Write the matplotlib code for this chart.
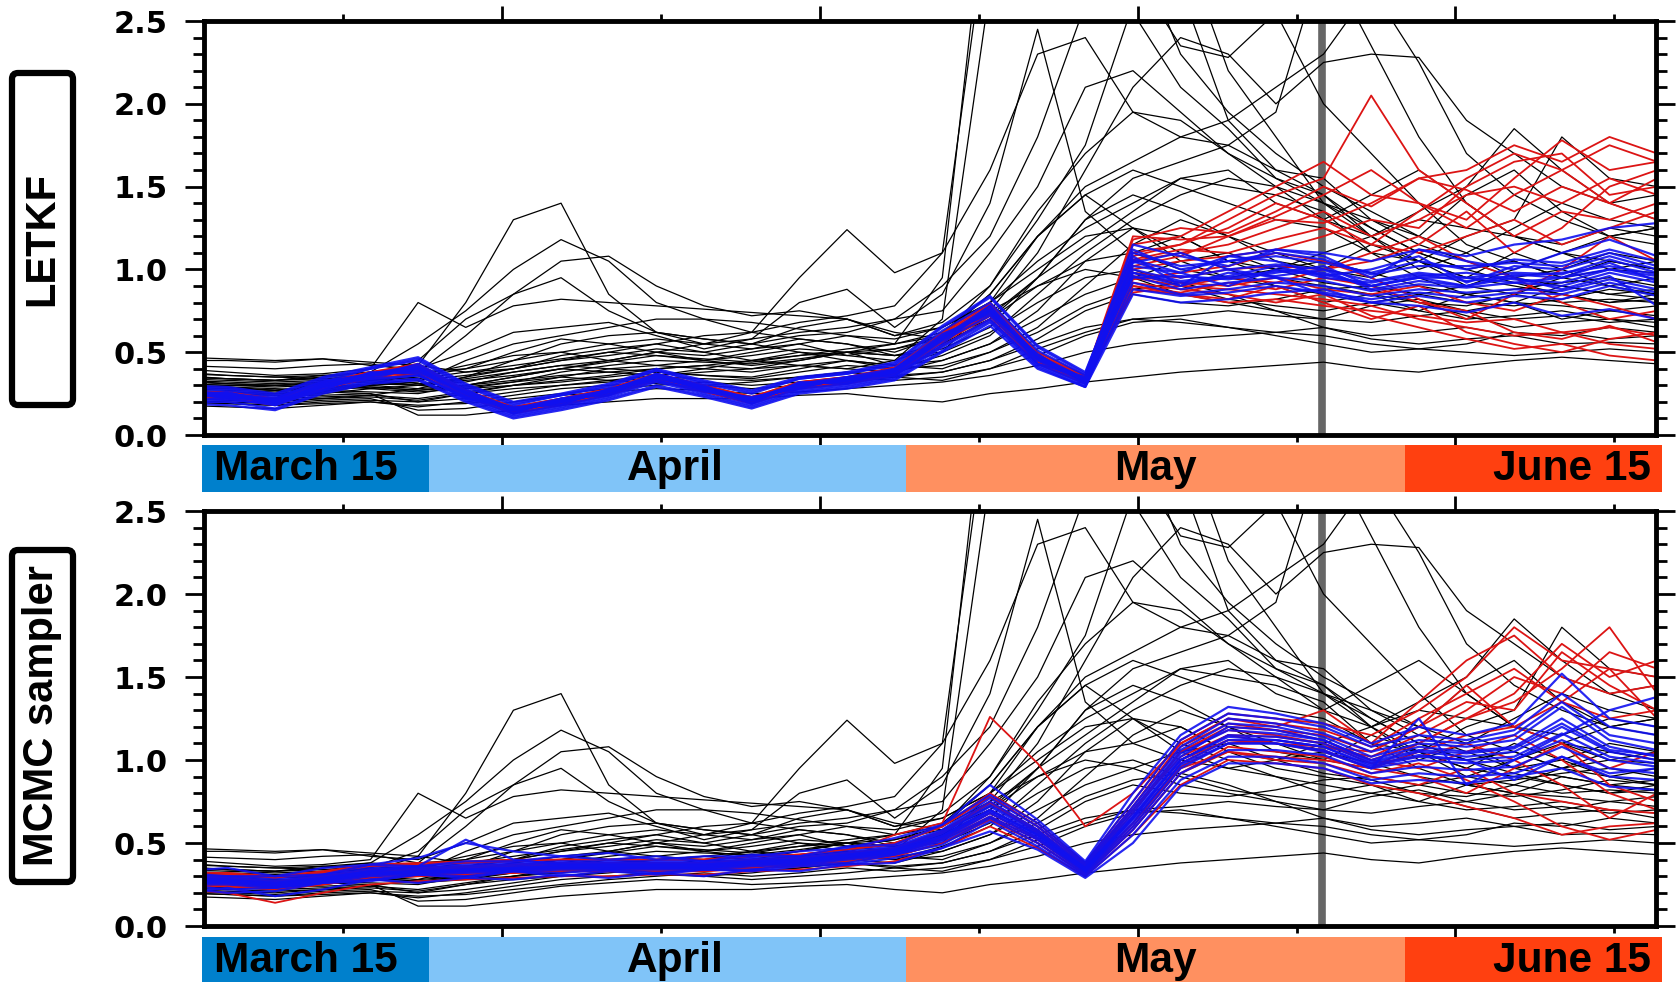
import numpy as np
import matplotlib.pyplot as plt
from matplotlib.patches import FancyBboxPatch
from matplotlib.transforms import IdentityTransform

# days counted from the left edge of the plot (about March 18)
DAYS = [-1.5, 1.5, 4.5, 7.5, 10.5, 13.5, 16.5, 19.5, 22.5, 25.5, 28.5, 31.5,
        34.5, 37.5, 40.5, 43.5, 46.5, 49.5, 52.5, 55.5, 58.5, 61.5, 64.5, 67.5,
        70.5, 73.5, 76.5, 79.5, 82.5, 85.5, 88.5, 91.5]

# free-running ensemble (black), identical in both panels
BLACK = [
    [0.30,0.29,0.27,0.30,0.33,0.42,0.80,1.30,1.40,0.85,0.62,0.58,0.55,0.50,0.48,0.52,0.60,0.85,1.20,1.45,1.60,1.50,1.40,1.30,1.25,1.10,1.05,0.95,1.10,1.00,0.90,0.95],
    [0.36,0.34,0.33,0.35,0.38,0.55,0.75,1.00,1.18,1.05,0.80,0.70,0.62,0.58,0.55,0.48,0.55,0.70,0.95,1.30,1.45,1.35,1.20,1.10,1.00,1.15,1.05,0.90,0.85,0.95,1.05,1.00],
    [0.25,0.24,0.22,0.26,0.30,0.38,0.60,0.85,1.05,1.08,0.90,0.78,0.72,0.75,0.70,0.60,0.65,0.80,1.00,1.20,1.25,1.10,1.00,0.90,0.85,0.80,0.75,0.85,0.80,0.70,0.75,0.72],
    [0.40,0.38,0.36,0.37,0.40,0.80,0.65,0.78,0.82,0.80,0.78,0.76,0.74,0.72,0.70,0.62,0.58,0.70,0.90,1.05,1.10,1.20,1.05,0.95,0.90,0.85,0.80,0.78,0.85,0.80,0.82,0.80],
    [0.33,0.31,0.30,0.32,0.35,0.45,0.70,0.85,0.95,0.75,0.62,0.55,0.62,0.95,1.24,0.98,1.10,3.20,3.60,3.20,2.55,2.10,1.85,1.55,1.40,1.30,1.15,1.05,0.95,1.00,1.10,1.05],
    [0.28,0.27,0.26,0.28,0.30,0.32,0.45,0.55,0.60,0.65,0.70,0.70,0.68,0.64,0.60,0.55,0.95,3.50,3.80,3.40,3.00,2.30,1.95,1.70,1.50,1.35,1.20,1.10,0.95,0.90,0.85,0.88],
    [0.45,0.45,0.44,0.46,0.42,0.40,0.50,0.62,0.65,0.68,0.60,0.52,0.58,0.80,0.88,0.65,0.85,1.40,2.45,1.35,1.10,1.00,0.95,0.90,0.80,0.85,0.75,0.70,0.72,0.75,0.70,0.68],
    [0.22,0.21,0.20,0.22,0.24,0.28,0.35,0.45,0.55,0.60,0.62,0.58,0.55,0.60,0.62,0.70,0.90,1.20,1.80,2.60,3.20,2.70,1.90,1.60,1.55,1.30,1.20,1.45,1.60,1.35,1.20,1.25],
    [0.32,0.31,0.30,0.29,0.31,0.30,0.35,0.40,0.48,0.52,0.55,0.50,0.45,0.42,0.40,0.45,0.70,2.70,3.50,3.20,2.80,2.35,2.28,2.55,2.00,1.70,1.40,1.15,1.05,0.95,0.90,0.85],
    [0.20,0.19,0.18,0.20,0.21,0.20,0.25,0.30,0.35,0.40,0.42,0.45,0.50,0.55,0.48,0.45,0.55,0.75,1.10,1.60,2.10,2.40,2.30,2.00,2.25,2.30,2.28,1.90,1.70,1.50,1.40,1.30],
    [0.38,0.36,0.35,0.34,0.33,0.35,0.40,0.50,0.58,0.55,0.50,0.45,0.48,0.52,0.50,0.42,0.50,0.80,1.20,1.50,1.65,1.80,1.75,1.60,1.45,1.25,1.10,1.00,0.92,0.85,0.80,0.82],
    [0.26,0.25,0.24,0.25,0.28,0.30,0.32,0.38,0.42,0.45,0.50,0.48,0.52,0.58,0.55,0.50,0.60,0.90,1.30,1.75,2.60,3.00,2.20,1.80,1.40,1.20,1.30,1.25,1.20,1.15,1.25,1.20],
    [0.30,0.29,0.28,0.27,0.26,0.25,0.30,0.35,0.40,0.38,0.36,0.40,0.45,0.50,0.45,0.40,0.48,0.60,0.85,1.10,1.30,1.45,1.55,1.50,1.40,1.25,1.10,1.00,1.05,0.95,1.00,0.98],
    [0.35,0.34,0.33,0.36,0.38,0.36,0.42,0.48,0.50,0.45,0.42,0.40,0.38,0.42,0.40,0.38,0.45,0.55,0.75,1.05,1.25,1.20,1.05,1.00,1.10,1.20,1.35,1.50,1.85,1.60,1.40,1.45],
    [0.24,0.23,0.22,0.23,0.24,0.22,0.26,0.30,0.32,0.35,0.38,0.36,0.34,0.38,0.42,0.40,0.42,0.50,0.65,0.90,1.15,1.30,1.20,1.05,1.00,0.95,1.05,1.20,1.30,1.80,1.55,1.50],
    [0.29,0.28,0.27,0.28,0.29,0.27,0.30,0.33,0.36,0.38,0.40,0.42,0.40,0.45,0.50,0.48,0.50,0.62,0.80,0.95,1.00,0.90,0.82,0.78,0.75,0.80,0.85,0.90,1.00,1.10,1.20,1.15],
    [0.18,0.17,0.16,0.18,0.20,0.17,0.20,0.24,0.28,0.30,0.32,0.30,0.28,0.30,0.32,0.35,0.38,0.45,0.55,0.65,0.70,0.72,0.75,0.72,0.70,0.78,0.82,0.75,0.70,0.72,0.68,0.70],
    [0.34,0.33,0.32,0.33,0.34,0.31,0.33,0.36,0.40,0.44,0.48,0.46,0.44,0.48,0.52,0.55,0.60,0.75,0.90,1.00,0.95,0.85,0.80,0.75,0.65,0.60,0.62,0.65,0.60,0.62,0.58,0.60],
    [0.21,0.20,0.19,0.21,0.22,0.15,0.16,0.20,0.24,0.26,0.28,0.27,0.25,0.26,0.28,0.30,0.32,0.36,0.42,0.50,0.55,0.58,0.60,0.62,0.65,0.58,0.55,0.58,0.60,0.55,0.56,0.55],
    [0.27,0.26,0.25,0.26,0.25,0.12,0.12,0.15,0.18,0.20,0.22,0.22,0.22,0.24,0.25,0.22,0.20,0.25,0.28,0.32,0.35,0.38,0.40,0.42,0.44,0.40,0.38,0.42,0.45,0.47,0.45,0.43],
    [0.31,0.30,0.29,0.30,0.28,0.26,0.28,0.32,0.35,0.33,0.31,0.30,0.32,0.35,0.38,0.35,0.33,0.40,0.52,0.62,0.70,0.68,0.65,0.60,0.55,0.50,0.52,0.55,0.62,0.60,0.65,0.62],
    [0.42,0.41,0.40,0.42,0.43,0.38,0.40,0.45,0.50,0.55,0.58,0.55,0.52,0.55,0.60,0.58,0.65,0.80,1.05,1.25,1.40,1.55,1.50,1.45,1.35,1.10,0.95,0.85,0.80,0.90,0.85,0.82],
    [0.23,0.22,0.21,0.22,0.23,0.21,0.25,0.28,0.30,0.32,0.35,0.34,0.33,0.35,0.38,0.36,0.38,0.45,0.58,0.75,0.85,0.80,0.78,0.82,0.88,0.90,0.85,0.80,0.78,0.82,0.88,0.85],
    [0.37,0.36,0.35,0.36,0.35,0.33,0.36,0.40,0.45,0.48,0.52,0.50,0.55,0.65,0.70,0.60,0.68,0.90,1.35,1.70,1.95,1.90,1.70,1.55,1.45,1.20,1.00,1.10,1.25,1.40,1.30,1.25],
    [0.26,0.25,0.24,0.24,0.25,0.20,0.22,0.26,0.30,0.33,0.36,0.38,0.40,0.42,0.45,0.42,0.45,0.55,0.70,0.85,0.95,1.05,1.10,1.00,0.92,0.88,0.80,0.72,0.65,0.68,0.70,0.65],
    [0.33,0.32,0.31,0.32,0.33,0.30,0.34,0.38,0.42,0.40,0.38,0.36,0.35,0.40,0.45,0.42,0.40,0.50,0.62,0.78,0.88,0.92,0.85,0.75,0.70,0.68,0.72,0.75,0.80,0.78,0.75,0.78],
    [0.29,0.28,0.27,0.29,0.30,0.28,0.30,0.35,0.40,0.45,0.50,0.55,0.58,0.62,0.65,0.70,0.75,1.10,1.50,2.10,2.20,1.95,1.70,1.50,1.30,1.20,1.05,0.95,0.90,0.85,0.80,0.85],
    [0.20,0.19,0.18,0.19,0.20,0.18,0.19,0.22,0.25,0.28,0.30,0.32,0.30,0.32,0.35,0.33,0.35,0.40,0.48,0.60,0.68,0.70,0.65,0.62,0.60,0.55,0.52,0.50,0.48,0.50,0.52,0.50],
    [0.47,0.46,0.45,0.46,0.44,0.42,0.38,0.40,0.45,0.50,0.48,0.45,0.42,0.45,0.50,0.55,0.62,0.85,1.20,1.45,1.25,1.05,0.95,1.00,1.05,0.98,0.90,0.85,0.88,0.92,0.95,0.90],
    [0.31,0.30,0.30,0.31,0.32,0.30,0.28,0.30,0.33,0.36,0.40,0.42,0.45,0.48,0.50,0.52,0.58,0.72,0.95,1.15,1.35,1.55,1.60,1.40,1.30,1.45,1.60,1.40,1.20,1.10,1.05,1.00],
    [0.27,0.26,0.25,0.27,0.29,0.27,0.29,0.32,0.38,0.42,0.45,0.44,0.43,0.46,0.50,0.48,0.52,0.65,0.95,1.30,1.55,1.65,1.75,1.95,2.90,2.35,1.80,1.40,1.20,1.10,1.00,1.05],
    [0.35,0.34,0.33,0.34,0.36,0.34,0.38,0.42,0.46,0.50,0.55,0.60,0.62,0.68,0.72,0.78,1.10,1.60,2.30,2.40,1.95,1.80,1.90,2.10,2.30,2.70,2.25,1.70,1.45,1.30,1.20,1.25],
]

LETKF_RED = [
    [0.24,0.24,0.19,0.29,0.35,0.38,0.24,0.14,0.19,0.25,0.34,0.27,0.20,0.29,0.32,0.37,0.56,0.72,0.44,0.34,1.05,1.10,1.15,1.25,1.35,1.20,1.30,1.45,1.50,1.40,1.55,1.45],
    [0.25,0.25,0.21,0.31,0.37,0.42,0.26,0.16,0.21,0.27,0.36,0.29,0.22,0.31,0.34,0.40,0.60,0.78,0.48,0.36,1.10,1.15,1.30,1.45,1.55,2.05,1.60,1.40,1.20,1.35,1.30,1.40],
    [0.23,0.23,0.19,0.29,0.35,0.39,0.24,0.14,0.19,0.25,0.34,0.27,0.20,0.29,0.32,0.38,0.57,0.74,0.45,0.33,0.95,0.90,0.88,0.85,0.82,0.78,0.70,0.65,0.60,0.62,0.55,0.52],
    [0.26,0.26,0.22,0.32,0.38,0.43,0.27,0.17,0.22,0.28,0.37,0.30,0.23,0.32,0.35,0.41,0.62,0.80,0.50,0.36,1.20,1.18,1.20,1.30,1.28,1.40,1.55,1.60,1.75,1.65,1.80,1.70],
    [0.22,0.22,0.18,0.28,0.34,0.37,0.23,0.13,0.18,0.24,0.33,0.26,0.19,0.28,0.31,0.36,0.54,0.70,0.43,0.31,0.88,0.85,0.80,0.82,0.78,0.75,0.72,0.68,0.70,0.62,0.65,0.60],
    [0.25,0.25,0.20,0.30,0.36,0.40,0.25,0.15,0.20,0.26,0.35,0.28,0.21,0.30,0.33,0.38,0.58,0.75,0.46,0.34,1.00,1.05,1.08,1.12,1.20,1.30,1.25,1.50,1.65,1.70,1.45,1.50],
    [0.24,0.24,0.20,0.30,0.36,0.40,0.25,0.15,0.20,0.26,0.35,0.28,0.21,0.30,0.33,0.38,0.58,0.75,0.46,0.33,0.98,0.95,1.00,1.02,1.00,1.05,1.15,1.35,1.10,1.25,1.50,1.60],
    [0.23,0.23,0.19,0.29,0.35,0.39,0.24,0.14,0.19,0.25,0.34,0.27,0.20,0.29,0.32,0.37,0.57,0.73,0.45,0.32,0.92,0.88,0.85,0.80,0.85,0.72,0.65,0.58,0.52,0.55,0.48,0.45],
    [0.26,0.26,0.21,0.31,0.37,0.41,0.26,0.16,0.21,0.27,0.36,0.29,0.22,0.31,0.34,0.39,0.60,0.77,0.47,0.35,1.15,1.20,1.35,1.50,1.65,1.45,1.40,1.30,1.55,1.78,1.60,1.65],
    [0.24,0.24,0.20,0.30,0.36,0.40,0.25,0.15,0.20,0.26,0.35,0.28,0.21,0.30,0.33,0.38,0.58,0.75,0.46,0.33,0.96,0.92,0.90,0.95,0.88,0.85,0.90,0.80,0.75,0.85,0.78,0.70],
    [0.25,0.25,0.21,0.31,0.37,0.41,0.26,0.16,0.21,0.27,0.36,0.29,0.22,0.31,0.34,0.39,0.59,0.76,0.47,0.34,1.06,1.12,1.10,1.18,1.25,1.15,1.10,1.20,1.30,1.15,1.25,1.35],
    [0.23,0.23,0.19,0.29,0.35,0.39,0.24,0.14,0.19,0.25,0.34,0.27,0.20,0.29,0.32,0.37,0.56,0.72,0.44,0.32,0.90,0.85,0.82,0.90,0.80,0.70,0.78,0.62,0.55,0.50,0.58,0.62],
    [0.24,0.24,0.20,0.30,0.36,0.40,0.25,0.15,0.20,0.26,0.35,0.28,0.21,0.30,0.33,0.38,0.58,0.75,0.46,0.33,1.08,1.15,1.25,1.40,1.30,1.15,1.35,1.55,1.70,1.60,1.40,1.55],
    [0.23,0.23,0.19,0.29,0.35,0.39,0.24,0.14,0.19,0.25,0.34,0.27,0.20,0.29,0.32,0.37,0.57,0.73,0.45,0.32,0.94,0.98,1.02,1.10,1.05,0.95,0.82,0.70,0.85,1.00,1.20,1.05],
    [0.25,0.25,0.21,0.31,0.37,0.41,0.26,0.16,0.21,0.27,0.36,0.29,0.22,0.31,0.34,0.39,0.59,0.76,0.47,0.34,1.02,1.08,1.20,1.32,1.45,1.60,1.40,1.25,1.45,1.60,1.75,1.65],
    [0.24,0.24,0.20,0.30,0.36,0.40,0.25,0.15,0.20,0.26,0.35,0.28,0.21,0.30,0.33,0.38,0.58,0.75,0.46,0.33,0.90,0.86,0.92,0.88,0.95,0.90,0.80,0.75,0.62,0.58,0.66,0.56],
    [0.26,0.26,0.22,0.32,0.38,0.42,0.27,0.17,0.22,0.28,0.37,0.30,0.23,0.32,0.35,0.40,0.61,0.79,0.49,0.35,1.18,1.25,1.22,1.35,1.50,1.38,1.55,1.48,1.35,1.50,1.40,1.30],
    [0.23,0.23,0.19,0.29,0.35,0.39,0.24,0.14,0.19,0.25,0.34,0.27,0.20,0.29,0.32,0.37,0.56,0.72,0.44,0.32,0.86,0.90,0.95,0.92,1.00,1.10,1.20,1.05,0.95,0.80,0.70,0.75],
]

LETKF_BLUE = [
    [0.30,0.29,0.25,0.35,0.41,0.47,0.31,0.20,0.25,0.31,0.40,0.33,0.27,0.35,0.38,0.44,0.66,0.84,0.54,0.38,1.10,1.02,1.05,1.08,1.04,0.98,1.05,1.00,1.06,1.04,1.12,1.05],
    [0.19,0.18,0.15,0.25,0.31,0.33,0.20,0.10,0.15,0.21,0.29,0.23,0.16,0.25,0.28,0.33,0.50,0.66,0.40,0.29,0.92,0.85,0.88,0.92,0.90,0.84,0.88,0.86,0.88,0.87,0.94,0.88],
    [0.26,0.22,0.22,0.33,0.35,0.43,0.28,0.13,0.22,0.24,0.37,0.30,0.19,0.32,0.31,0.40,0.61,0.73,0.49,0.31,1.05,0.95,1.00,1.03,1.00,0.93,0.98,0.95,0.98,0.97,1.06,0.98],
    [0.22,0.25,0.18,0.27,0.38,0.37,0.22,0.17,0.18,0.28,0.33,0.26,0.23,0.28,0.35,0.36,0.55,0.78,0.43,0.35,0.96,0.88,0.92,0.95,0.93,0.87,0.91,0.89,0.92,0.90,0.98,0.92],
    [0.28,0.27,0.23,0.32,0.40,0.45,0.29,0.18,0.24,0.29,0.39,0.31,0.25,0.34,0.37,0.42,0.63,0.80,0.51,0.36,1.15,1.08,1.02,1.12,1.08,0.95,1.12,1.05,1.00,1.10,1.18,1.08],
    [0.20,0.20,0.16,0.26,0.32,0.34,0.21,0.11,0.16,0.22,0.30,0.24,0.17,0.26,0.29,0.34,0.51,0.68,0.41,0.29,0.85,0.80,0.82,0.86,0.88,0.80,0.84,0.80,0.84,0.82,0.90,0.84],
    [0.24,0.26,0.19,0.31,0.34,0.41,0.24,0.16,0.19,0.27,0.36,0.27,0.22,0.29,0.34,0.39,0.58,0.76,0.46,0.34,1.02,0.98,0.90,1.00,0.98,0.90,0.96,0.98,0.94,0.92,1.00,0.96],
    [0.25,0.23,0.21,0.29,0.37,0.38,0.26,0.14,0.21,0.25,0.34,0.29,0.20,0.31,0.32,0.37,0.57,0.72,0.45,0.32,0.98,0.90,0.98,0.96,1.00,0.88,0.93,0.90,0.97,0.95,1.04,0.93],
    [0.23,0.24,0.20,0.28,0.36,0.39,0.23,0.15,0.20,0.26,0.35,0.28,0.21,0.30,0.33,0.38,0.60,0.74,0.47,0.33,1.00,0.93,0.96,1.02,0.95,0.92,0.97,0.93,0.96,0.98,1.02,0.97],
    [0.27,0.25,0.22,0.32,0.37,0.42,0.27,0.16,0.22,0.27,0.37,0.29,0.22,0.31,0.35,0.40,0.59,0.78,0.48,0.34,1.08,0.90,1.08,1.05,0.96,1.00,1.08,0.92,1.02,1.00,1.08,1.00],
    [0.21,0.22,0.18,0.29,0.34,0.36,0.23,0.13,0.18,0.24,0.33,0.27,0.19,0.28,0.31,0.36,0.54,0.70,0.43,0.31,0.88,0.84,0.86,0.90,0.86,0.82,0.86,0.83,0.86,0.85,0.92,0.86],
    [0.24,0.23,0.20,0.30,0.36,0.40,0.25,0.15,0.20,0.26,0.35,0.28,0.21,0.30,0.33,0.38,0.58,0.75,0.46,0.33,0.95,0.96,0.94,0.98,1.02,0.90,0.95,0.95,0.92,0.95,1.00,0.94],
    [0.29,0.28,0.24,0.34,0.40,0.46,0.30,0.19,0.24,0.30,0.39,0.32,0.26,0.34,0.37,0.43,0.65,0.83,0.53,0.37,1.12,1.00,1.05,1.10,1.06,0.97,1.02,1.02,1.04,1.02,1.10,1.02],
    [0.22,0.21,0.19,0.27,0.33,0.36,0.22,0.12,0.17,0.23,0.32,0.25,0.18,0.27,0.30,0.35,0.53,0.69,0.42,0.30,0.98,0.92,0.95,0.99,0.97,0.90,0.95,0.90,0.95,0.88,0.96,0.78],
    [0.24,0.24,0.20,0.30,0.36,0.40,0.25,0.15,0.20,0.26,0.35,0.28,0.21,0.30,0.33,0.38,0.58,0.75,0.46,0.33,1.04,1.10,1.00,0.95,0.85,0.80,0.78,0.74,0.80,0.72,0.76,0.70],
    [0.25,0.25,0.21,0.31,0.37,0.41,0.26,0.16,0.21,0.27,0.36,0.29,0.22,0.31,0.34,0.39,0.59,0.76,0.47,0.34,1.06,0.98,1.08,1.12,1.10,1.05,1.12,1.08,1.15,1.18,1.25,1.28],
]

MCMC_RED = [
    [0.30,0.30,0.26,0.30,0.34,0.35,0.36,0.37,0.38,0.38,0.38,0.38,0.40,0.41,0.44,0.55,0.62,1.26,0.98,0.60,0.80,1.10,1.25,1.20,1.30,1.10,1.35,1.60,1.75,1.50,1.40,1.45],
    [0.22,0.20,0.14,0.20,0.25,0.27,0.28,0.29,0.30,0.30,0.31,0.31,0.33,0.34,0.36,0.39,0.47,0.60,0.47,0.30,0.55,0.85,1.00,0.98,0.95,0.85,0.80,0.72,0.65,0.55,0.60,0.62],
    [0.28,0.28,0.26,0.29,0.33,0.34,0.35,0.36,0.37,0.37,0.37,0.37,0.39,0.40,0.43,0.46,0.56,0.74,0.56,0.35,0.68,1.05,1.20,1.18,1.15,1.05,1.20,1.35,1.30,1.65,1.45,1.30],
    [0.25,0.25,0.23,0.26,0.30,0.31,0.32,0.33,0.34,0.34,0.34,0.34,0.36,0.37,0.40,0.43,0.52,0.66,0.52,0.32,0.60,0.95,1.05,1.00,0.98,0.90,0.85,0.95,0.80,0.75,0.70,0.68],
    [0.32,0.32,0.30,0.33,0.37,0.38,0.39,0.40,0.40,0.40,0.40,0.40,0.42,0.43,0.46,0.49,0.60,0.80,0.62,0.38,0.75,1.12,1.28,1.25,1.22,1.15,1.30,1.50,1.80,1.60,1.55,1.50],
    [0.24,0.24,0.22,0.25,0.29,0.30,0.31,0.32,0.33,0.33,0.33,0.33,0.35,0.36,0.39,0.42,0.50,0.64,0.50,0.31,0.58,0.92,1.08,1.05,1.02,0.92,0.98,0.88,0.75,0.60,0.52,0.58],
    [0.27,0.27,0.25,0.28,0.32,0.33,0.34,0.35,0.36,0.36,0.36,0.36,0.38,0.39,0.42,0.45,0.54,0.70,0.55,0.34,0.65,1.00,1.15,1.14,1.10,1.00,1.10,1.25,1.40,1.70,1.50,1.60],
    [0.29,0.29,0.27,0.30,0.34,0.35,0.36,0.37,0.38,0.38,0.38,0.38,0.40,0.41,0.44,0.47,0.57,0.75,0.58,0.36,0.70,1.05,1.18,1.15,1.10,0.98,1.02,1.10,1.00,0.85,0.65,0.80],
    [0.26,0.26,0.24,0.27,0.31,0.32,0.33,0.34,0.35,0.35,0.35,0.35,0.37,0.38,0.41,0.44,0.53,0.68,0.53,0.33,0.62,0.98,1.12,1.10,1.06,0.95,1.05,1.15,1.20,1.10,0.95,1.05],
    [0.31,0.31,0.29,0.32,0.36,0.37,0.38,0.39,0.40,0.40,0.40,0.40,0.42,0.43,0.46,0.50,0.60,0.78,0.60,0.37,0.72,1.10,1.25,1.22,1.18,1.08,1.25,1.40,1.55,1.35,1.25,1.30],
    [0.26,0.26,0.24,0.27,0.31,0.32,0.33,0.34,0.35,0.35,0.35,0.35,0.37,0.38,0.41,0.44,0.53,0.68,0.53,0.33,0.62,0.96,1.10,1.12,1.08,1.02,1.15,1.30,1.50,1.40,1.65,1.55],
    [0.29,0.29,0.27,0.30,0.34,0.35,0.36,0.37,0.38,0.38,0.38,0.38,0.40,0.41,0.44,0.47,0.57,0.74,0.57,0.36,0.70,1.02,1.15,1.10,1.05,0.95,0.90,0.80,0.95,1.10,0.85,0.75],
    [0.24,0.24,0.22,0.25,0.29,0.30,0.31,0.32,0.33,0.33,0.33,0.33,0.35,0.36,0.39,0.42,0.50,0.65,0.50,0.31,0.58,0.92,1.05,1.02,1.00,0.95,1.10,1.25,1.35,1.55,1.80,1.40],
    [0.31,0.31,0.29,0.32,0.36,0.37,0.38,0.39,0.40,0.40,0.40,0.40,0.42,0.43,0.46,0.50,0.60,0.78,0.60,0.37,0.72,1.08,1.22,1.18,1.12,1.00,0.95,1.05,1.15,1.00,0.80,0.70],
    [0.27,0.27,0.25,0.28,0.32,0.33,0.34,0.35,0.36,0.36,0.36,0.36,0.38,0.39,0.42,0.45,0.54,0.70,0.55,0.34,0.65,1.00,1.12,1.10,1.08,1.05,1.20,1.45,1.20,1.35,1.55,1.25],
]

MCMC_BLUE = [
    [0.32,0.30,0.30,0.31,0.37,0.36,0.39,0.39,0.42,0.40,0.42,0.39,0.43,0.42,0.48,0.49,0.61,0.79,0.62,0.38,0.75,1.12,1.28,1.25,1.20,1.08,1.15,1.12,1.18,1.40,1.20,1.15],
    [0.23,0.20,0.21,0.26,0.27,0.31,0.29,0.33,0.30,0.33,0.31,0.34,0.33,0.36,0.37,0.41,0.47,0.63,0.48,0.30,0.55,0.88,1.02,1.02,0.98,0.88,0.92,0.90,0.92,1.02,0.90,0.88],
    [0.28,0.28,0.26,0.29,0.33,0.34,0.35,0.36,0.37,0.37,0.37,0.37,0.39,0.40,0.43,0.46,0.56,0.73,0.57,0.35,0.68,1.04,1.18,1.16,1.12,1.00,1.08,1.05,1.08,1.25,1.08,1.02],
    [0.25,0.25,0.23,0.26,0.30,0.31,0.32,0.33,0.34,0.34,0.34,0.34,0.36,0.37,0.40,0.43,0.51,0.66,0.52,0.32,0.60,0.95,1.10,1.10,1.06,0.95,1.00,0.98,1.00,1.12,1.00,0.96],
    [0.33,0.35,0.30,0.35,0.37,0.41,0.50,0.45,0.42,0.44,0.40,0.42,0.42,0.45,0.47,0.53,0.61,0.85,0.64,0.39,0.80,1.15,1.32,1.28,1.22,1.10,1.20,1.15,1.22,1.52,1.25,1.20],
    [0.20,0.23,0.18,0.22,0.28,0.26,0.29,0.28,0.31,0.29,0.32,0.30,0.34,0.33,0.37,0.38,0.47,0.57,0.46,0.29,0.50,0.84,0.98,0.98,0.95,0.86,0.88,0.86,0.90,0.95,0.84,0.82],
    [0.27,0.27,0.25,0.28,0.32,0.33,0.34,0.35,0.36,0.36,0.36,0.36,0.38,0.39,0.42,0.45,0.54,0.70,0.55,0.34,0.65,1.00,1.15,1.14,1.10,0.98,1.05,1.02,1.05,1.20,1.05,1.00],
    [0.29,0.29,0.27,0.30,0.34,0.35,0.36,0.37,0.38,0.38,0.38,0.38,0.40,0.41,0.44,0.47,0.57,0.75,0.58,0.36,0.70,1.06,1.22,1.20,1.14,1.02,1.10,1.08,1.12,1.32,1.12,1.06],
    [0.26,0.26,0.24,0.27,0.31,0.32,0.33,0.34,0.35,0.35,0.35,0.35,0.37,0.38,0.41,0.44,0.52,0.68,0.53,0.33,0.62,0.98,1.12,1.12,1.08,0.96,1.02,1.00,1.02,1.16,1.02,0.98],
    [0.30,0.30,0.28,0.31,0.35,0.36,0.37,0.38,0.39,0.39,0.39,0.39,0.41,0.42,0.45,0.48,0.58,0.77,0.60,0.37,0.72,1.08,1.25,1.22,1.16,1.05,1.12,1.10,1.15,1.35,1.15,1.10],
    [0.25,0.22,0.23,0.26,0.28,0.31,0.30,0.33,0.32,0.34,0.32,0.34,0.34,0.37,0.38,0.43,0.49,0.65,0.50,0.31,0.58,0.92,1.06,1.06,1.03,0.92,0.96,0.94,0.96,1.08,0.95,0.92],
    [0.28,0.28,0.26,0.29,0.33,0.36,0.52,0.40,0.37,0.37,0.37,0.37,0.39,0.40,0.43,0.46,0.55,0.72,0.56,0.35,0.66,1.02,1.20,1.18,1.12,0.99,1.06,1.04,1.07,1.22,1.06,1.03],
    [0.26,0.26,0.24,0.27,0.31,0.32,0.33,0.34,0.35,0.35,0.35,0.35,0.37,0.38,0.41,0.44,0.53,0.69,0.54,0.33,0.64,0.97,1.10,1.10,1.05,0.95,1.25,0.85,1.00,1.15,1.30,1.38],
    [0.27,0.27,0.25,0.28,0.32,0.33,0.34,0.35,0.36,0.36,0.36,0.36,0.38,0.39,0.42,0.45,0.54,0.70,0.55,0.34,0.66,1.00,1.14,1.12,1.08,0.97,1.03,1.00,0.88,1.02,0.92,0.95],
]

MONTH_LABELS = ["March 15", "April", "May", "June 15"]
MONTH_EDGES = [-0.1, 14.17, 44.2, 75.62, 91.8]
MONTH_COLORS = ["#0080cc", "#80c4f8", "#ff9060", "#ff4010"]
PANEL_NAMES = ["LETKF", "MCMC sampler"]
MARK_DAY = 70.4

W, H = 1676, 982
fig = plt.figure(figsize=(W / 100, H / 100), dpi=100)

panels = [
    (LETKF_RED, LETKF_BLUE, [0.1215, 0.557, 0.8663, 0.4216], [0.1205, 0.499, 0.8709, 0.0479], 577),
    (MCMC_RED, MCMC_BLUE, [0.1215, 0.057, 0.8663, 0.4226], [0.1205, -0.002, 0.8709, 0.0479], 100),
]

for (red, blue, rect, bar_rect, box_y), name in zip(panels, PANEL_NAMES):
    ax = fig.add_axes(rect)
    ax.axvline(MARK_DAY, color="#666666", lw=5.5, zorder=1)
    for line in BLACK:
        ax.plot(DAYS, line, color="black", lw=0.9, zorder=2)
    for line in red:
        ax.plot(DAYS, line, color="#dc1414", lw=1.3, zorder=3)
    for line in blue:
        ax.plot(DAYS, line, color="#1010f0", lw=1.6, alpha=0.9, zorder=4)

    ax.set_xlim(0, 91.4)
    ax.set_ylim(0, 2.5)
    ax.set_xticks([18.8, 38.8, 58.8, 78.8])
    ax.set_xticks([8.8, 28.8, 48.8, 68.8, 88.8], minor=True)
    ax.set_yticks(np.arange(0, 2.51, 0.5))
    ax.set_yticks(np.arange(0, 2.51, 0.1), minor=True)
    ax.set_yticklabels([f"{v:.1f}" for v in np.arange(0, 2.51, 0.5)],
                       fontweight="bold", family="DejaVu Sans")
    ax.tick_params(axis="x", which="both", direction="out", top=True, bottom=True,
                   labelbottom=False, width=2)
    ax.tick_params(axis="x", which="major", length=11)
    ax.tick_params(axis="x", which="minor", length=5)
    ax.tick_params(axis="y", which="both", direction="out", left=True, right=True, width=2)
    ax.tick_params(axis="y", which="major", length=14, labelsize=22, pad=12)
    ax.tick_params(axis="y", which="minor", length=8)
    for s in ax.spines.values():
        s.set_linewidth(3.5)
        s.set_zorder(10)

    # month strip under the panel
    bax = fig.add_axes(bar_rect)
    bax.barh(0, np.diff(MONTH_EDGES), left=MONTH_EDGES[:-1], height=1,
             color=MONTH_COLORS, edgecolor="none")
    bax.set_xlim(MONTH_EDGES[0], MONTH_EDGES[-1])
    bax.set_ylim(-0.5, 0.5)
    bax.axis("off")
    tkw = dict(fontsize=30.5, fontweight="bold", family="Liberation Sans", va="center")
    bax.text(MONTH_EDGES[0] + 0.75, -0.02, MONTH_LABELS[0], ha="left", **tkw)
    bax.text((MONTH_EDGES[1] + MONTH_EDGES[2]) / 2 + 0.5, -0.02, MONTH_LABELS[1], ha="center", **tkw)
    bax.text((MONTH_EDGES[2] + MONTH_EDGES[3]) / 2, -0.02, MONTH_LABELS[2], ha="center", **tkw)
    bax.text(MONTH_EDGES[4] - 0.7, -0.02, MONTH_LABELS[3], ha="right", **tkw)

    # boxed panel name on the left
    box = FancyBboxPatch((12, box_y), 61, 332, boxstyle="round,pad=0,rounding_size=6",
                         transform=IdentityTransform(), fc="white", ec="black", lw=4.5)
    fig.patches.append(box)
    fig.text(42.5 / W, (box_y + 166) / H, name, rotation=90, ha="center", va="center",
             fontsize=30, fontweight="bold", family="Liberation Sans")

fig.savefig("out.png", dpi=100)
